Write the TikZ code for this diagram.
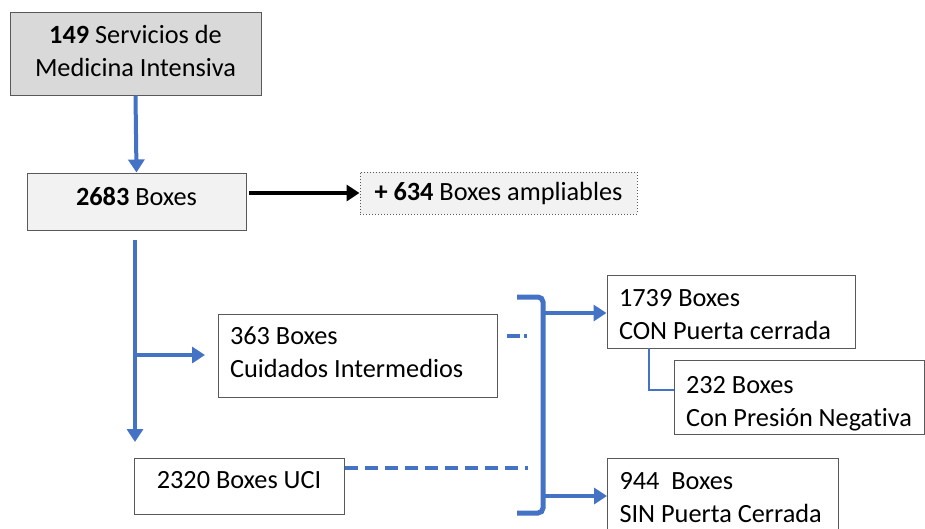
\documentclass[tikz,border=0pt]{standalone}
\usepackage{fontspec}
\setmainfont{Carlito}[Ligatures=NoCommon]
\usetikzlibrary{arrows.meta}
\definecolor{bl}{HTML}{4472C4}
\definecolor{gA}{HTML}{D9D9D9}
\definecolor{gB}{HTML}{F2F2F2}
\definecolor{bd}{HTML}{595959}
\newcommand\padbot[1]{\par\vspace*{#1}}
\begin{document}
\begin{tikzpicture}[x=1pt,y=-1pt,
  box/.style={draw=bd, line width=1pt, rectangle, inner sep=0pt, font=\fontsize{26.3}{33}\selectfont},
  lbox/.style={box, align=flush left, inner xsep=12pt},
  blarrow/.style={draw=bl, line width=4pt, -{Triangle[length=13pt,width=16pt]}},
]
\useasboundingbox (0,0) rectangle (925,528);
\fill[white] (0,0) rectangle (925,528);
% boxes
\node[box, fill=gA, minimum width=251pt, minimum height=83pt, align=center] (a) at (135.5,53.5) {\textbf{149} Servicios de\\Medicina Intensiva\padbot{6pt}};
\node[box, fill=gB, minimum width=219pt, minimum height=57pt, text height=18pt, text depth=10pt] (b) at (136.5,201.5) {\textbf{2683} Boxes};
\node[box, fill=gB, dotted, minimum width=277pt, minimum height=42pt] (c) at (498.5,193) {\textbf{+ 634} Boxes ampliables};
\node[lbox, text width=255pt, minimum height=83pt, text height=20pt, text depth=42pt] (d) at (357.5,355.5) {363 Boxes\\Cuidados Intermedios};
\node[box, minimum width=210pt, minimum height=56pt, text height=18pt, text depth=13pt] (e) at (239,486) {2320 Boxes UCI};
\node[lbox, text width=224pt, minimum height=73pt, text height=20pt, text depth=30pt] (f) at (731,311.5) {1739 Boxes\\CON Puerta cerrada};
\node[lbox, text width=226pt, minimum height=74pt, text height=20pt, text depth=27pt] (g) at (799,397) {232 Boxes\\Con Presión Negativa};
\node[lbox, text width=207pt, minimum height=74pt, text height=20pt, text depth=31.6pt, anchor=north west] (h) at (607,458) {944\ \ Boxes\\SIN Puerta Cerrada};
% coordinates
\coordinate (bt) at (543,297);
\coordinate (bb) at (543,513);
\coordinate (dend) at (528,336);
\coordinate (eend) at (528,468);
\coordinate (jb) at (135,442);
\coordinate (jd) at (205,355);
% arrows
\draw[blarrow] (a.south) -- (b.north);
\draw[line width=4pt, -{Triangle[length=13pt,width=16pt]}] (249,193) -- (c.west|-135,193);
\draw[blarrow] (135,240) -- (jb);
\draw[blarrow] (135,355) -- (jd);
% bracket
\draw[draw=bl, line width=5pt, rounded corners=5pt] (517,297) -- (bt) -- (bb) -- (517,513);
\draw[blarrow] (543,313) -- (f.west|-543,313);
\draw[blarrow] (543,496) -- (h.west|-543,496);
% dashed
\draw[draw=bl, line width=4pt, dash pattern=on 13pt off 4pt on 3pt off 4pt] (507,336) -- (dend);
\draw[draw=bl, line width=4pt, dash pattern=on 13pt off 7pt] (e.east) ++(0,-18) -- (eend);
% thin connector
\draw[draw=bl, line width=2pt] (649,348) |- (g.west|-649,390);
\end{tikzpicture}
\end{document}
